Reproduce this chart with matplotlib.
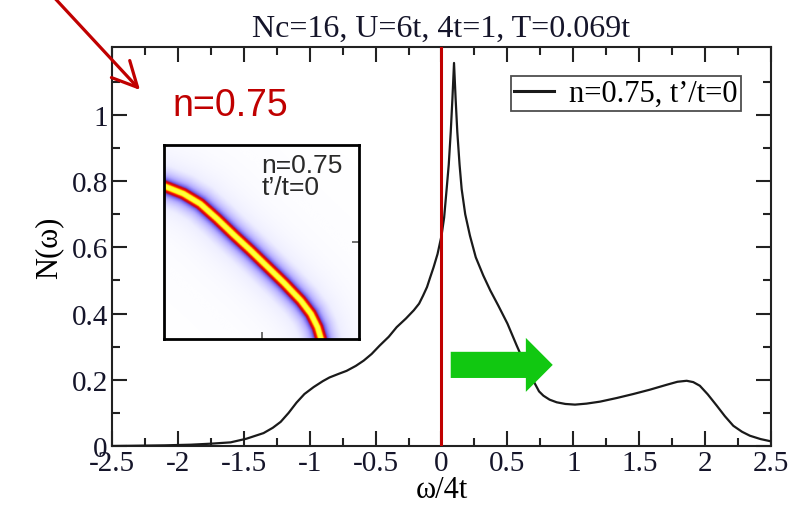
import numpy as np
import matplotlib
matplotlib.use('Agg')
import matplotlib.pyplot as plt
from matplotlib.colors import LinearSegmentedColormap
from matplotlib.patches import FancyArrow

SERIF = ['Liberation Serif', 'DejaVu Serif']
SANS = ['Liberation Sans', 'DejaVu Sans']
RED = '#c00000'

plt.rcParams['axes.unicode_minus'] = False
plt.rcParams['font.family'] = SERIF

# density of states N(omega)
omega = [-2.5, -2.3, -2.1, -1.9, -1.75, -1.6, -1.48, -1.35, -1.28, -1.22, -1.16,
         -1.1, -1.04, -0.97, -0.9, -0.85, -0.78, -0.72, -0.65, -0.59, -0.53,
         -0.47, -0.4, -0.34, -0.27, -0.21, -0.17, -0.14, -0.11, -0.087, -0.06,
         -0.03, 0.0, 0.02, 0.039, 0.055, 0.07, 0.083, 0.095, 0.107, 0.12,
         0.137, 0.153, 0.18, 0.216, 0.26, 0.317, 0.37, 0.431, 0.5, 0.571,
         0.63, 0.697, 0.74, 0.773, 0.82, 0.874, 0.94, 1.013, 1.1, 1.203,
         1.33, 1.455, 1.58, 1.709, 1.79, 1.86, 1.91, 1.96, 2.02, 2.088, 2.15,
         2.214, 2.28, 2.34, 2.42, 2.5]
dos = [0.0, 0.001, 0.002, 0.004, 0.007, 0.011, 0.022, 0.039, 0.055, 0.073, 0.1,
       0.131, 0.157, 0.178, 0.196, 0.207, 0.218, 0.227, 0.242, 0.258, 0.278,
       0.303, 0.33, 0.359, 0.385, 0.41, 0.43, 0.454, 0.48, 0.508, 0.54,
       0.58, 0.635, 0.69, 0.776, 0.85, 0.948, 1.05, 1.157, 1.05, 0.948,
       0.85, 0.776, 0.70, 0.635, 0.57, 0.515, 0.47, 0.424, 0.37, 0.303,
       0.25, 0.197, 0.165, 0.152, 0.14, 0.132, 0.127, 0.125, 0.128, 0.134,
       0.145, 0.157, 0.17, 0.185, 0.194, 0.197, 0.193, 0.182, 0.156, 0.122, 0.09,
       0.061, 0.043, 0.031, 0.021, 0.014]

# ridge of the inset spectral weight (fractions of the inset box)
ridge_x = [0.0, 0.098, 0.184, 0.27, 0.356, 0.442, 0.527, 0.613, 0.699, 0.751, 0.785, 0.802]
ridge_y = [0.785, 0.746, 0.694, 0.617, 0.534, 0.454, 0.371, 0.287, 0.196, 0.127, 0.058, 0.0]

xtick_vals = [-2.5, -2, -1.5, -1, -0.5, 0, 0.5, 1, 1.5, 2, 2.5]
xtick_text = ['-2.5', '-2', '-1.5', '-1', '-0.5', '0', '0.5', '1', '1.5', '2', '2.5']
ytick_vals = [0, 0.2, 0.4, 0.6, 0.8, 1.0]
ytick_text = ['0', '0.2', '0.4', '0.6', '0.8', '1']

title = 'Nc=16, U=6t, 4t=1, T=0.069t'
legend_label = 'n=0.75, t\u2019/t=0'

fig = plt.figure(figsize=(7.97, 5.06), dpi=100)
ax = fig.add_axes([0.1405, 0.1166, 0.8269, 0.7884])

ax.plot(omega, dos, color='#1a1a1a', lw=1.6, label=legend_label, zorder=3)
ax.axvline(0, color=RED, lw=2.2, zorder=4)

ax.add_patch(FancyArrow(0.07, 0.245, 0.774, 0, width=0.079, head_width=0.163,
                        head_length=0.204, length_includes_head=True,
                        color='#11c811', lw=0, zorder=5))

ax.set_xlim(-2.5, 2.5)
ax.set_ylim(0, 1.205)
ax.set_xticks(xtick_vals)
ax.set_xticklabels(xtick_text, fontfamily=SERIF)
ax.set_xticks(np.arange(-2.5, 2.51, 0.25), minor=True)
ax.set_yticks(ytick_vals)
ax.set_yticklabels(ytick_text, fontfamily=SERIF)
ax.set_yticks(np.arange(0, 1.15, 0.1), minor=True)
ax.tick_params(which='both', direction='in', top=True, right=True, width=1.5, color='#222')
ax.tick_params(which='major', length=11, pad=3, labelsize=21, labelcolor='#15152a')
ax.tick_params(which='minor', length=6)
for sp in ax.spines.values():
    sp.set_linewidth(1.5)
    sp.set_color('#222')

ax.set_xlabel('\u03c9/4t', fontsize=22, labelpad=-1)
ax.set_ylabel('N(\u03c9)', fontsize=22, labelpad=6)
ax.set_title(title, fontsize=23, pad=8, color='#15152a')

leg = ax.legend(loc='upper right', bbox_to_anchor=(0.954, 0.927),
                prop={'size': 22},
                frameon=True, fancybox=False, handlelength=1.3, handletextpad=0.5,
                borderpad=0.1, borderaxespad=0)
leg.get_frame().set_edgecolor('#222')
leg.get_frame().set_linewidth(1.3)
leg.get_lines()[0].set_linewidth(2.2)

ax.text(-2.04, 1.03, 'n=0.75', family=SANS, fontsize=27, color=RED, ha='left', va='center')

# inset: spectral weight map
ins = fig.add_axes([0.2058, 0.328, 0.2447, 0.3834])
n = 300
gx, gy = np.meshgrid(np.linspace(0, 1, n), np.linspace(0, 1, n))
rx, ry = np.array(ridge_x), np.array(ridge_y)
dist = np.full(gx.shape, np.inf)
for i in range(len(rx) - 1):
    ax0, ay0, bx, by = rx[i], ry[i], rx[i + 1], ry[i + 1]
    vx, vy = bx - ax0, by - ay0
    t = np.clip(((gx - ax0) * vx + (gy - ay0) * vy) / (vx * vx + vy * vy), 0, 1)
    d = np.hypot(gx - (ax0 + t * vx), gy - (ay0 + t * vy))
    dist = np.minimum(dist, d)
img = 1.0 / (1 + (dist / 0.016) ** 2) + 0.22 / (1 + (dist / 0.09) ** 2)
cmap = LinearSegmentedColormap.from_list('arpes', [
    (0.0, '#ffffff'), (0.1, '#eeeeff'), (0.22, '#b4acff'), (0.34, '#6a58e8'),
    (0.42, '#c80010'), (0.6, '#ff1a00'), (0.78, '#ffff00'), (1.0, '#ffff40')])
ins.imshow(img, origin='lower', extent=[0, 1, 0, 1], cmap=cmap, vmin=0, vmax=1.1,
           interpolation='bilinear', aspect='auto')
ins.set_xlim(0, 1)
ins.set_ylim(0, 1)
ins.set_xticks([0.5])
ins.set_yticks([0.5])
ins.tick_params(direction='in', labelbottom=False, labelleft=False, left=False,
                right=True, length=5, width=1.2, color='#555')
for sp in ins.spines.values():
    sp.set_linewidth(2)
ins.text(0.5, 0.96, 'n=0.75\nt\u2019/t=0', family=SANS, fontsize=19, color='#2a2a2a',
         ha='left', va='top', linespacing=0.92, transform=ins.transAxes)

# dark red pointer coming from outside the frame
ax.annotate('', xy=(140, 415), xycoords='figure pixels', xytext=(50, 512),
            textcoords='figure pixels',
            arrowprops=dict(arrowstyle='->,head_length=0.9,head_width=0.45', color=RED,
                            lw=2.3, mutation_scale=20, shrinkA=0, shrinkB=0),
            annotation_clip=False)

fig.savefig('out.png', dpi=100, facecolor='white')
